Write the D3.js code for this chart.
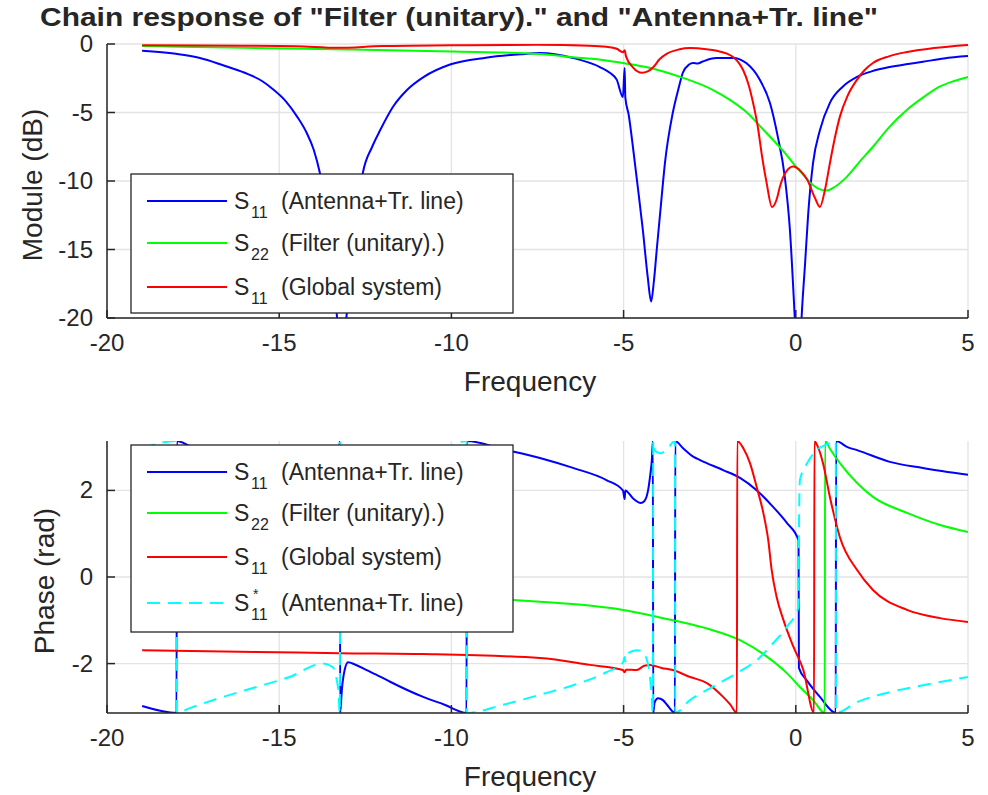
<!DOCTYPE html>
<html>
<head>
<meta charset="utf-8">
<script src="https://cdn.jsdelivr.net/npm/d3@7"></script>
<style>
body { margin: 0; background: #fff; }
text { font-family: "Liberation Sans", Arial, Helvetica, sans-serif; fill: #262626; }
</style>
</head>
<body>
<svg width="988" height="795"></svg>
<script>

// ---- data: [frequency, value] ----
var freqTicks = [-20, -15, -10, -5, 0, 5];
var modTicks = [-20, -15, -10, -5, 0];
var phaseTicks = [-2, 0, 2];

// module (dB)
var modS11Ant = [[-18.98,-0.5],[-18,-0.72],[-17.3,-1.02],[-16.63,-1.55],[-16,-2.1],[-15.5,-2.7],[-15.18,-3.3],[-14.8,-4.2],
	[-14.48,-5.3],[-14.2,-6.5],[-14.0,-7.7],[-13.82,-9.4],[-13.6,-12.5],[-13.45,-16],[-13.32,-20],[-13.2,-24],[-13.05,-20],
	[-12.9,-16],[-12.75,-12.5],[-12.57,-9.4],[-12.3,-7.5],[-12.07,-6.3],[-11.7,-4.6],[-11.29,-3.36],[-10.8,-2.4],[-10.04,-1.5],
	[-9,-1.0],[-8,-0.75],[-7.43,-0.66],[-6.47,-1.02],[-5.69,-1.68],[-5.4,-2.1],[-5.2,-2.6],[-5.02,-3.87],[-4.97,-1.75],
	[-4.95,-3.9],[-4.85,-5.2],[-4.73,-7.5],[-4.6,-10.2],[-4.44,-13.6],[-4.3,-17],[-4.2,-18.8],[-4.12,-17.3],[-4.03,-14.8],
	[-3.9,-11.3],[-3.8,-8.7],[-3.57,-5.0],[-3.4,-3.2],[-3.28,-2.1],[-3.1,-1.5],[-2.98,-1.39],[-2.85,-1.42],[-2.72,-1.3],
	[-2.5,-1.1],[-2.29,-1.02],[-1.82,-1.02],[-1.43,-1.41],[-1.04,-2.63],[-0.75,-4.3],[-0.52,-6.8],[-0.32,-9.7],[-0.17,-13.6],
	[-0.06,-18.5],[-0.03,-20],[0.07,-26],[0.17,-19.9],[0.27,-16],[0.36,-12.4],[0.5,-8.7],[0.7,-6.3],[0.99,-4.3],[1.37,-3.1],
	[1.78,-2.4],[2.2,-2.0],[2.73,-1.68],[3.2,-1.48],[3.69,-1.3],[4.3,-1.05],[5,-0.88]];
var modS22Fil = [[-18.98,-0.15],[-16,-0.28],[-13,-0.4],[-10,-0.55],[-7.43,-0.73],[-6.47,-0.97],[-5.5,-1.2],[-5.02,-1.39],
	[-4.23,-1.75],[-3.36,-2.4],[-2.4,-3.36],[-1.9,-4.1],[-1.42,-5.0],[-1.0,-6.1],[-0.66,-7.0],[-0.3,-8.0],[-0.08,-8.7],
	[0.2,-9.5],[0.41,-10.1],[0.65,-10.55],[0.9,-10.7],[1.15,-10.4],[1.48,-9.7],[1.85,-8.6],[2.24,-7.5],[2.7,-6.1],
	[3.23,-4.8],[3.7,-3.9],[4.19,-3.1],[4.6,-2.7],[5,-2.4]];
var modS11Glob = [[-18.98,-0.1],[-16,-0.12],[-14.5,-0.16],[-13.3,-0.28],[-12,-0.15],[-10,-0.1],[-7.5,-0.06],[-6,-0.12],
	[-5.5,-0.2],[-5.2,-0.35],[-5.02,-0.6],[-4.97,-0.45],[-4.93,-0.9],[-4.73,-1.7],[-4.47,-2.1],[-4.3,-2.0],[-4.14,-1.7],
	[-3.95,-1.1],[-3.74,-0.7],[-3.4,-0.4],[-3.07,-0.3],[-2.6,-0.38],[-2.29,-0.5],[-2.0,-0.7],[-1.82,-0.95],[-1.65,-1.4],
	[-1.53,-1.9],[-1.38,-2.9],[-1.24,-4.3],[-1.1,-6.1],[-0.98,-8.2],[-0.85,-10.1],[-0.69,-11.9],[-0.55,-11.3],[-0.46,-10.4],
	[-0.3,-9.4],[-0.08,-8.95],[0.15,-9.3],[0.33,-9.9],[0.55,-11.2],[0.7,-11.9],[0.85,-10.6],[0.99,-8.7],[1.13,-6.9],
	[1.28,-5.3],[1.5,-3.8],[1.78,-2.6],[2.0,-1.9],[2.24,-1.39],[2.7,-0.9],[3.23,-0.58],[4.0,-0.3],[5,-0.07]];

// phase (rad)
var phS11Ant = [[-18.98,-2.98],[-17.98,-3.14],[-17.97,3.14],[-17.6,3.03],[-16.63,2.77],[-15.66,2.54],[-14.7,2.31],
	[-13.73,2.0],[-13.45,2.08],[-13.35,2.3],[-13.28,2.65],[-13.24,3.14],[-13.23,-3.14],[-13.18,-2.6],[-13.1,-2.15],
	[-13.0,-1.97],[-12.8,-2.02],[-12.46,-2.15],[-12.07,-2.3],[-11.78,-2.42],[-10.82,-2.77],[-10.2,-2.95],[-9.56,-3.14],
	[-9.55,3.14],[-8.5,2.95],[-7.43,2.75],[-6.47,2.52],[-5.5,2.24],[-5.02,2.0],[-4.97,1.8],[-4.95,2.0],[-4.73,1.82],
	[-4.5,1.71],[-4.4,1.75],[-4.29,2.0],[-4.22,2.4],[-4.18,2.7],[-4.15,3.14],[-4.14,-3.14],[-4.1,-2.9],[-4.0,-2.8],
	[-3.85,-2.85],[-3.74,-2.95],[-3.51,-3.14],[-3.5,3.14],[-3.28,2.98],[-2.98,2.78],[-2.78,2.7],[-2.11,2.47],[-1.62,2.29],
	[-1.13,2.0],[-0.66,1.62],[-0.26,1.25],[0.08,0.85],[0.09,-2.1],[0.33,-2.4],[0.7,-2.77],[1.16,-3.14],[1.17,3.14],
	[1.5,3.0],[1.78,2.93],[2.73,2.66],[3.69,2.52],[5,2.36]];
var phS22Fil = [[-18.98,-0.12],[-16,-0.2],[-13,-0.3],[-10,-0.45],[-8.21,-0.53],[-7.43,-0.57],[-6,-0.66],[-5.02,-0.76],
	[-4.3,-0.87],[-3.57,-1.0],[-2.58,-1.19],[-1.62,-1.46],[-0.84,-1.84],[-0.26,-2.22],[0.12,-2.54],[0.5,-2.84],
	[0.84,-3.14],[0.85,3.14],[1.0,2.95],[1.28,2.63],[1.78,2.17],[2.24,1.85],[3.23,1.48],[4.19,1.2],[5,1.04]];
var phS11Glob = [[-18.98,-1.69],[-15.66,-1.73],[-13.23,-1.76],[-10.82,-1.78],[-7.43,-1.87],[-5.98,-2.03],[-5.02,-2.15],
	[-4.97,-2.2],[-4.93,-2.14],[-4.62,-2.15],[-4.4,-2.05],[-4.23,-2.03],[-3.9,-2.1],[-3.57,-2.15],[-3.07,-2.31],
	[-2.58,-2.45],[-2.11,-2.77],[-1.9,-2.95],[-1.71,-3.14],[-1.70,3.14],[-1.52,2.97],[-1.33,2.63],[-1.14,2.09],
	[-0.94,1.47],[-0.8,0.85],[-0.7,0.16],[-0.56,-0.45],[-0.36,-0.99],[-0.07,-1.61],[0.22,-2.15],[0.53,-3.14],
	[0.54,3.14],[0.59,3.09],[0.79,2.63],[0.99,1.85],[1.28,0.92],[1.78,0.16],[2.24,-0.3],[3.23,-0.76],[4.19,-0.95],[5,-1.04]];
var phS11AntConj = [[-18.98,2.98],[-17.98,3.14],[-17.97,-3.14],[-17.6,-3.03],[-16.63,-2.77],[-15.66,-2.54],[-14.7,-2.31],
	[-13.73,-2.0],[-13.45,-2.08],[-13.35,-2.3],[-13.28,-2.65],[-13.24,-3.14],[-13.23,3.14],[-13.18,2.6],[-13.1,2.15],
	[-13.0,1.97],[-12.8,2.02],[-12.46,2.15],[-12.07,2.3],[-11.78,2.42],[-10.82,2.77],[-10.2,2.95],[-9.56,3.14],
	[-9.55,-3.14],[-8.5,-2.95],[-7.43,-2.72],[-6.47,-2.5],[-5.5,-2.2],[-5.02,-1.98],[-4.97,-1.85],[-4.95,-1.95],
	[-4.87,-1.76],[-4.62,-1.69],[-4.45,-1.72],[-4.35,-1.85],[-4.26,-2.15],[-4.2,-2.6],[-4.15,-3.14],[-4.14,3.14],
	[-4.1,2.92],[-3.94,2.86],[-3.76,2.93],[-3.51,3.14],[-3.5,-3.14],[-3.07,-2.84],[-2.58,-2.61],[-1.71,-2.22],
	[-1.13,-1.92],[-0.66,-1.53],[-0.26,-1.15],[0.08,-0.69],[0.09,1.0],[0.12,2.24],[0.33,2.63],[0.61,2.93],[0.99,3.09],
	[1.16,3.14],[1.17,-3.14],[1.78,-2.89],[2.73,-2.66],[3.69,-2.5],[5,-2.31]];

var titleText = 'Chain response of "Filter (unitary)." and "Antenna+Tr. line"';

var svg = d3.select("svg");
var axisColor = "#262626", gridColor = "#e3e3e3";

var x = d3.scaleLinear().domain([-20, 5]).range([107, 968]);

//title
svg.append("text").attr("x", 40).attr("y", 26)
	.attr("font-size", 26).attr("font-weight", "bold").attr("fill", "#000")
	.attr("textLength", 838).attr("lengthAdjust", "spacingAndGlyphs")
	.text(titleText);

function panel(p) {
	var y = p.y, g = svg.append("g");
	var x0 = x.range()[0], x1 = x.range()[1], yTop = y.range()[1], yBot = y.range()[0];

	//grid
	g.append("g").selectAll("line").data(freqTicks).enter().append("line")
		.attr("x1", x).attr("x2", x).attr("y1", yTop).attr("y2", yBot)
		.attr("stroke", gridColor).attr("stroke-width", 1.3);
	g.append("g").selectAll("line").data(p.ticks).enter().append("line")
		.attr("x1", x0).attr("x2", x1).attr("y1", y).attr("y2", y)
		.attr("stroke", gridColor).attr("stroke-width", 1.3);

	//curves
	svg.append("clipPath").attr("id", p.id).append("rect")
		.attr("x", x0).attr("y", yTop).attr("width", x1 - x0).attr("height", yBot - yTop);
	var line = d3.line().curve(d3.curveMonotoneX)
		.x(function(d) { return x(d[0]); }).y(function(d) { return y(d[1]); });
	g.append("g").attr("clip-path", "url(#" + p.id + ")")
		.selectAll("path").data(p.series).enter().append("path")
		.attr("d", function(s) { return line(s.values); })
		.attr("fill", "none").attr("stroke", function(s) { return s.color; })
		.attr("stroke-width", 2).attr("stroke-dasharray", function(s) { return s.dash || null; })
		.attr("stroke-linejoin", "round");

	//axes
	g.append("line").attr("x1", x0).attr("x2", x0).attr("y1", yTop).attr("y2", yBot)
		.attr("stroke", axisColor).attr("stroke-width", 1.5);
	g.append("line").attr("x1", x0).attr("x2", x1).attr("y1", yBot).attr("y2", yBot)
		.attr("stroke", axisColor).attr("stroke-width", 1.5);
	g.append("g").selectAll("line").data(freqTicks).enter().append("line")
		.attr("x1", x).attr("x2", x).attr("y1", yBot).attr("y2", yBot - 8)
		.attr("stroke", axisColor).attr("stroke-width", 1.5);
	g.append("g").selectAll("line").data(p.ticks).enter().append("line")
		.attr("x1", x0).attr("x2", x0 + 8).attr("y1", y).attr("y2", y)
		.attr("stroke", axisColor).attr("stroke-width", 1.5);
	g.append("g").selectAll("text").data(freqTicks).enter().append("text")
		.attr("x", x).attr("y", yBot + 33).attr("text-anchor", "middle").attr("font-size", 24)
		.text(function(d) { return d; });
	g.append("g").selectAll("text").data(p.ticks).enter().append("text")
		.attr("x", x0 - 14).attr("y", function(d) { return y(d) + 8; }).attr("text-anchor", "end").attr("font-size", 24)
		.text(function(d) { return d; });

	//labels
	g.append("text").attr("x", 530).attr("y", yBot + 73).attr("text-anchor", "middle").attr("font-size", 28)
		.text("Frequency");
	g.append("text").attr("transform", "translate(" + p.labelX + "," + ((yTop + yBot) / 2 + 4) + ") rotate(-90)")
		.attr("text-anchor", "middle").attr("font-size", 28).text(p.label);

	//legend
	var lg = g.append("g");
	lg.append("rect").attr("x", 131).attr("y", p.legendTop).attr("width", 382).attr("height", p.legendH)
		.attr("fill", "#fff").attr("stroke", axisColor).attr("stroke-width", 1.3);
	p.series.forEach(function(s, i) {
		var ly = p.legendTop + p.rows[i];
		lg.append("line").attr("x1", 147).attr("x2", 227).attr("y1", ly).attr("y2", ly)
			.attr("stroke", s.color).attr("stroke-width", 2).attr("stroke-dasharray", s.dash || null);
		lg.append("text").attr("x", 234).attr("y", ly + 8).attr("font-size", 23).text("S");
		lg.append("text").attr("x", 251).attr("y", ly + 17).attr("font-size", 16).text(s.sub);
		if (s.sup) lg.append("text").attr("x", 253).attr("y", ly - 4).attr("font-size", 14).text(s.sup);
		lg.append("text").attr("x", 281).attr("y", ly + 8).attr("font-size", 23).text(s.name);
	});
}

panel({
	id: "clipTop", label: "Module (dB)", labelX: 42,
	y: d3.scaleLinear().domain([-20, 0]).range([318, 44]), ticks: modTicks,
	legendTop: 174, legendH: 139, rows: [27, 69, 113],
	series: [
		{values: modS11Ant, color: "#0000ff", sub: "11", name: "(Antenna+Tr. line)"},
		{values: modS22Fil, color: "#00ff00", sub: "22", name: "(Filter (unitary).)"},
		{values: modS11Glob, color: "#ff0000", sub: "11", name: "(Global system)"}
	]
});

panel({
	id: "clipBot", label: "Phase (rad)", labelX: 54,
	y: d3.scaleLinear().domain([-Math.PI, Math.PI]).range([713, 441]), ticks: phaseTicks,
	legendTop: 445, legendH: 187, rows: [27, 68, 112, 158],
	series: [
		{values: phS11Ant, color: "#0000ff", sub: "11", name: "(Antenna+Tr. line)"},
		{values: phS22Fil, color: "#00ff00", sub: "22", name: "(Filter (unitary).)"},
		{values: phS11Glob, color: "#ff0000", sub: "11", name: "(Global system)"},
		{values: phS11AntConj, color: "#00ffff", dash: "13,8", sub: "11", sup: "*", name: "(Antenna+Tr. line)"}
	]
});
</script>
</body>
</html>
